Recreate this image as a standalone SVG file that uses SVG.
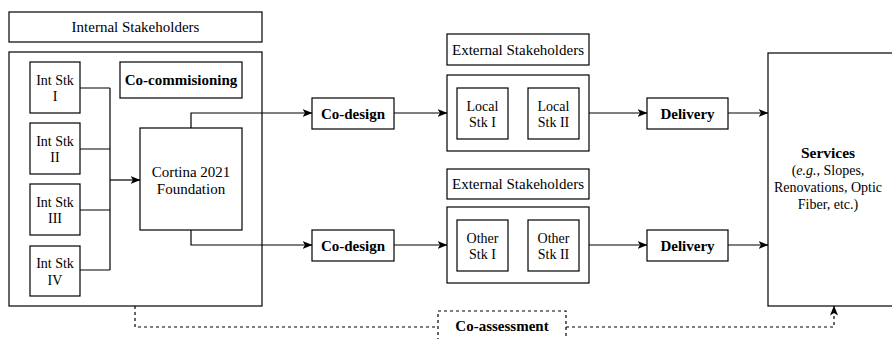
<svg xmlns="http://www.w3.org/2000/svg" width="892" height="339" viewBox="0 0 892 339">
<style>
  .box { fill: #fff; stroke: #000; stroke-width: 1.2; }
  .dbox { fill: #fff; stroke: #000; stroke-width: 1.2; stroke-dasharray: 3 3; }
  text { font-family: 'Liberation Serif', 'DejaVu Serif', serif; fill: #000; text-anchor: middle; }
  .t { font-size: 14px; }
  .t15 { font-size: 15px; }
  .b { font-size: 15px; font-weight: bold; }
  .ln { fill: none; stroke: #000; stroke-width: 1.2; }
  .dl { fill: none; stroke: #000; stroke-width: 1.2; stroke-dasharray: 3 3; }
</style>
<defs>
  <marker id="arr" markerWidth="10" markerHeight="8" refX="9.5" refY="4" orient="auto" markerUnits="userSpaceOnUse">
    <path d="M0,0 L10,4 L0,8 L2.5,4 Z" fill="#000"/>
  </marker>
</defs>
<rect width="892" height="339" fill="#fff"/>

<g id="internal-label">
  <rect class="box" x="9" y="12" width="253" height="30"/>
  <text class="t15" x="135.5" y="32">Internal Stakeholders</text>
</g>
<g id="internal-group">
  <rect class="box" x="9" y="52" width="253" height="254"/>
</g>
<g id="int-stk-1">
  <rect class="box" x="30" y="62" width="50" height="51"/>
  <text class="t" x="55" y="84.8">Int Stk</text>
  <text class="t" x="55" y="101.3">I</text>
</g>
<g id="int-stk-2">
  <rect class="box" x="30" y="123" width="50" height="51"/>
  <text class="t" x="55" y="145.8">Int Stk</text>
  <text class="t" x="55" y="162.3">II</text>
</g>
<g id="int-stk-3">
  <rect class="box" x="30" y="184" width="50" height="51"/>
  <text class="t" x="55" y="206.8">Int Stk</text>
  <text class="t" x="55" y="223.3">III</text>
</g>
<g id="int-stk-4">
  <rect class="box" x="30" y="246" width="50" height="50"/>
  <text class="t" x="55" y="268.3">Int Stk</text>
  <text class="t" x="55" y="284.8">IV</text>
</g>
<g id="co-commisioning">
  <rect class="box" x="120" y="62" width="122" height="36"/>
  <text class="b" x="181" y="85">Co-commisioning</text>
</g>
<g id="cortina">
  <rect class="box" x="140" y="128" width="102" height="102"/>
  <text class="t15" x="191" y="176.5">Cortina 2021</text>
  <text class="t15" x="191" y="193.5">Foundation</text>
</g>

<g id="co-design-1">
  <rect class="box" x="312" y="98" width="82" height="31"/>
  <text class="b" x="353" y="118.5">Co-design</text>
</g>
<g id="co-design-2">
  <rect class="box" x="312" y="230" width="82" height="31"/>
  <text class="b" x="353" y="250.5">Co-design</text>
</g>

<g id="ext-label-1">
  <rect class="box" x="447" y="34" width="142" height="31"/>
  <text class="t15" x="518" y="54.5">External Stakeholders</text>
</g>
<g id="ext-group-1">
  <rect class="box" x="447" y="75" width="142" height="76"/>
</g>
<g id="local-stk-1">
  <rect class="box" x="457" y="88" width="51" height="51"/>
  <text class="t" x="482.5" y="110.8">Local</text>
  <text class="t" x="482.5" y="127.3">Stk I</text>
</g>
<g id="local-stk-2">
  <rect class="box" x="528" y="88" width="51" height="51"/>
  <text class="t" x="553.5" y="110.8">Local</text>
  <text class="t" x="553.5" y="127.3">Stk II</text>
</g>

<g id="ext-label-2">
  <rect class="box" x="447" y="169" width="142" height="30"/>
  <text class="t15" x="518" y="189">External Stakeholders</text>
</g>
<g id="ext-group-2">
  <rect class="box" x="447" y="207" width="142" height="76"/>
</g>
<g id="other-stk-1">
  <rect class="box" x="457" y="220" width="51" height="51"/>
  <text class="t" x="482.5" y="242.8">Other</text>
  <text class="t" x="482.5" y="259.3">Stk I</text>
</g>
<g id="other-stk-2">
  <rect class="box" x="528" y="220" width="51" height="51"/>
  <text class="t" x="553.5" y="242.8">Other</text>
  <text class="t" x="553.5" y="259.3">Stk II</text>
</g>

<g id="delivery-1">
  <rect class="box" x="647" y="98" width="81" height="31"/>
  <text class="b" x="687.5" y="118.5">Delivery</text>
</g>
<g id="delivery-2">
  <rect class="box" x="647" y="230" width="81" height="31"/>
  <text class="b" x="687.5" y="250.5">Delivery</text>
</g>

<g id="services">
  <rect class="box" x="768" y="53" width="140" height="253"/>
  <text class="b" x="828" y="158" style="font-size:15.5px">Services</text>
  <text class="t" x="828" y="175">(<tspan font-style="italic">e.g.</tspan>, Slopes,</text>
  <text class="t" x="828" y="192">Renovations, Optic</text>
  <text class="t" x="828" y="209">Fiber, etc.)</text>
</g>

<g id="co-assessment">
  <rect class="dbox" x="438" y="311" width="128" height="40"/>
  <text class="b" x="502" y="330.5">Co-assessment</text>
</g>

<g id="connectors">
  <path class="ln" d="M80,88 H110 M80,149 H110 M80,210 H110 M80,270 H110 M110,88 V270"/>
  <path class="ln" d="M110,180 H140" marker-end="url(#arr)"/>
  <path class="ln" d="M191,128 V113 H312" marker-end="url(#arr)"/>
  <path class="ln" d="M191,230 V245 H312" marker-end="url(#arr)"/>
  <path class="ln" d="M394,113 H447" marker-end="url(#arr)"/>
  <path class="ln" d="M394,245 H447" marker-end="url(#arr)"/>
  <path class="ln" d="M589,113 H647" marker-end="url(#arr)"/>
  <path class="ln" d="M589,245 H647" marker-end="url(#arr)"/>
  <path class="ln" d="M728,113 H768" marker-end="url(#arr)"/>
  <path class="ln" d="M728,245 H768" marker-end="url(#arr)"/>
  <path class="dl" d="M135,306 V327 H438"/>
  <path class="dl" d="M566,327 H834 V306" marker-end="url(#arr)"/>
</g>
</svg>
